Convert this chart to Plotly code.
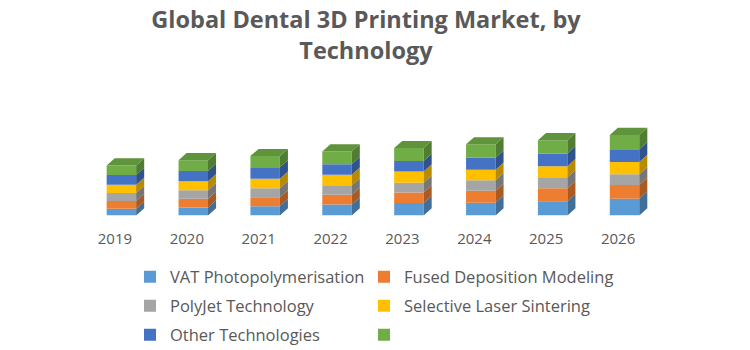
import plotly.graph_objects as go

years = ["2019", "2020", "2021", "2022", "2023", "2024", "2025", "2026"]
series_names = ["VAT Photopolymerisation", "Fused Deposition Modeling", "PolyJet Technology",
                "Selective Laser Sintering", "Other Technologies", " "]
vat = [7.0, 8.3, 9.7, 11.3, 13.0, 13.3, 14.7, 17.5]
fdm = [8.0, 9.0, 9.3, 10.3, 11.0, 12.3, 13.5, 14.2]
polyjet = [8.5, 9.0, 9.3, 9.7, 10.0, 11.0, 11.5, 11.2]
sls = [8.5, 9.3, 10.0, 11.0, 11.7, 11.0, 11.5, 12.6]
other = [10.0, 10.7, 11.7, 11.0, 11.0, 12.3, 13.2, 13.4]
unnamed = [10.0, 11.0, 11.7, 13.3, 13.3, 14.0, 13.7, 14.8]
series_values = [vat, fdm, polyjet, sls, other, unnamed]

colors = ["#5B9BD5", "#ED7D31", "#A5A5A5", "#FFC000", "#4472C4", "#70AD47"]
legend_ids = ["legend", "legend2", "legend3", "legend4", "legend5", "legend6"]


def shade(hexc, f):
    h = hexc.lstrip("#")
    r, g, b = (int(h[i:i + 2], 16) for i in (0, 2, 4))
    return "#%02x%02x%02x" % (int(r * f), int(g * f), int(b * f))


shift = 0.09   # front face offset from category centre
w = 0.41       # front face width (category units)
dx = 0.112     # depth in x (category units)
dy = 7.5       # depth in y (value units)

xs = [i + shift for i in range(len(years))]

fig = go.Figure()
bottoms = [0.0] * len(years)
side_polys = []
for k, (name, vals) in enumerate(zip(series_names, series_values)):
    fig.add_trace(go.Bar(
        x=xs, y=vals, base=bottoms[:], width=w, name=name,
        marker=dict(color=colors[k], line=dict(width=0)),
        legend=legend_ids[k], hoverinfo="skip",
    ))
    px_, py_ = [], []
    for i, v in enumerate(vals):
        b = bottoms[i]
        t = b + v
        xr = xs[i] + w / 2
        px_ += [xr, xr + dx, xr + dx, xr, xr, None]
        py_ += [b, b + dy, t + dy, t, b, None]
    side_polys.append((px_, py_, shade(colors[k], 0.72)))
    bottoms = [bottoms[i] + vals[i] for i in range(len(years))]

for px_, py_, c in side_polys:
    fig.add_trace(go.Scatter(x=px_, y=py_, mode="lines", fill="toself", fillcolor=c,
                             line=dict(width=0, color=c), showlegend=False, hoverinfo="skip"))

# top faces
tx, ty = [], []
for i, T in enumerate(bottoms):
    xl = xs[i] - w / 2
    xr = xs[i] + w / 2
    tx += [xl, xl + dx, xr + dx, xr, xl, None]
    ty += [T, T + dy, T + dy, T, T, None]
fig.add_trace(go.Scatter(x=tx, y=ty, mode="lines", fill="toself", fillcolor=shade(colors[5], 0.85),
                         line=dict(width=0), showlegend=False, hoverinfo="skip"))

legend_font = dict(family="Open Sans", size=16.5, color="#595959")
leg_common = dict(orientation="h", xref="container", yref="container", xanchor="left", yanchor="middle",
                  font=legend_font, itemwidth=30, bgcolor="rgba(0,0,0,0)")

col_x = [130, 364]
row_y = [277, 306, 335]
legends = {}
for k, lid in enumerate(legend_ids):
    legends[lid] = dict(x=col_x[k % 2] / 750, y=1 - row_y[k // 2] / 350, **leg_common)

fig.update_layout(
    width=750, height=350,
    margin=dict(l=79, r=96, t=125, b=131),
    paper_bgcolor="white", plot_bgcolor="white",
    barmode="overlay",
    title=dict(text="<b>Global Dental 3D Printing Market, by<br>Technology</b>",
               x=0.488, xref="container", xanchor="center",
               y=1 - 28 / 350, yref="container", yanchor="middle",
               font=dict(family="Open Sans", size=23.5, color="#595959")),
    xaxis=dict(range=[-0.5, 7.5], tickmode="array", tickvals=list(range(len(years))), ticktext=years,
               showgrid=False, zeroline=False, showline=False, ticks="",
               tickfont=dict(family="Open Sans", size=15, color="#595959"), ticklabelstandoff=12),
    yaxis=dict(range=[0, 94], visible=False, showgrid=False, zeroline=False),
    showlegend=True,
    **legends,
)

fig.write_html("out.html")
